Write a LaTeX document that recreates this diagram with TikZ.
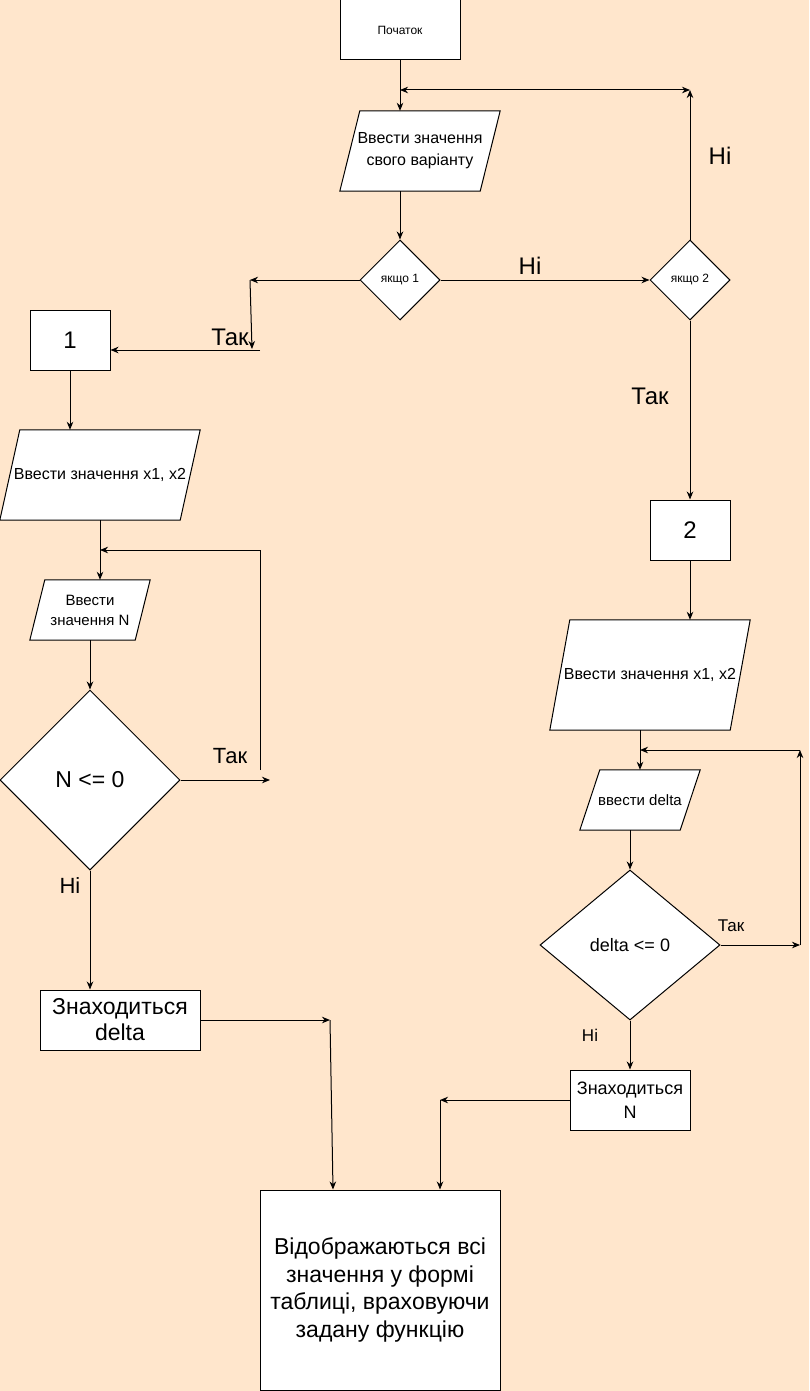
\documentclass[tikz,border=0pt]{standalone}
\usepackage{fontspec}
\setmainfont{Liberation Sans}
\usetikzlibrary{shapes.geometric,arrows.meta,calc}
\definecolor{bgpeach}{HTML}{FFE6CC}
\pgfdeclarelayer{back}
\pgfdeclarelayer{shapes}
\pgfsetlayers{back,shapes,main}
\newcommand\fsz[2]{\fontsize{#1}{#2}\selectfont}
% parallelogram (input/output) drawn behind a named text node
\newcommand\drawio[2]{%
  \begin{pgfonlayer}{shapes}
    \draw[fill=white,line width=1pt]
      ($(#1.north west)+(#2,0)$) -- (#1.north east) --
      ($(#1.south east)+(-#2,0)$) -- (#1.south west) -- cycle;
  \end{pgfonlayer}}
\begin{document}
\begin{tikzpicture}[x=1pt,y=-1pt,
  >={Stealth[length=8pt,width=6.5pt,inset=2.5pt]},
  arr/.style={->,line width=1pt},
  line/.style={line width=1pt},
  proc/.style={draw,fill=white,line width=1pt,inner sep=0pt,align=center},
  io/.style={inner sep=0pt,align=center},
  dec/.style={diamond,draw,fill=white,line width=1pt,inner sep=0pt,align=center},
  lbl/.style={inner sep=0pt}]

\begin{pgfonlayer}{back}
  \fill[bgpeach] (0,0) rectangle (809,1391);
\end{pgfonlayer}
\useasboundingbox (0,0) rectangle (809,1391);

% ---- top part ----
\node[proc,minimum width=120pt,minimum height=60pt,font=\fsz{12}{14}] (start) at (400,30) {Початок};
\node[io,minimum width=160pt,minimum height=80pt,font=\fsz{16}{22}] (in1) at (420,151) {Ввести значення\\свого варіанту};
\drawio{in1}{20}
\node[dec,minimum width=80pt,minimum height=80pt,font=\fsz{12}{14}] (d1) at (400,280) {якщо 1};
\node[dec,minimum width=80pt,minimum height=80pt,font=\fsz{12}{14}] (d2) at (690,280) {якщо 2};

% ---- left branch ----
\node[proc,minimum width=80pt,minimum height=60pt,font=\fsz{24}{28}] (b1) at (70,340) {1};
\node[io,minimum width=200pt,minimum height=90pt,font=\fsz{16}{20}] (in2) at (100,475) {Ввести значення x1, x2};
\drawio{in2}{20}
\node[io,minimum width=120pt,minimum height=60pt,font=\fsz{15}{20}] (in3) at (90,610) {Ввести\\значення N};
\drawio{in3}{15}
\node[dec,minimum width=180pt,minimum height=180pt,font=\fsz{23}{26}] (d3) at (90,780) {N <= 0};
\node[proc,minimum width=160pt,minimum height=60pt,font=\fsz{23}{26}] (bdelta) at (120,1020) {Знаходиться\\delta};

% ---- right branch ----
\node[proc,minimum width=80pt,minimum height=60pt,font=\fsz{24}{28}] (b2) at (690,530) {2};
\node[io,minimum width=200pt,minimum height=110pt,font=\fsz{16}{20}] (in4) at (650,675) {Ввести значення x1, x2};
\drawio{in4}{20}
\node[io,minimum width=120pt,minimum height=60pt,font=\fsz{15}{20}] (in5) at (640,800) {ввести delta};
\drawio{in5}{20}
\node[dec,minimum width=180pt,minimum height=150pt,font=\fsz{18}{22}] (d4) at (630,945) {delta <= 0};
\node[proc,minimum width=120pt,minimum height=60pt,font=\fsz{18}{24}] (bN) at (630,1100) {Знаходиться\\N};

% ---- result ----
\node[proc,minimum width=240pt,minimum height=200pt,font=\fsz{23}{27.5}] (final) at (380,1290)
  {Відображаються всі\\значення у формі\\таблиці, враховуючи\\задану функцію};

% ---- free connector ends ----
\coordinate (ctop) at (690,90);
\coordinate (cjoin) at (400,90);
\coordinate (cl1a) at (250,280);
\coordinate (cl1b) at (252,349);
\coordinate (cl1c) at (260,350);
\coordinate (cd3) at (270,780);
\coordinate (cloopA) at (260,770);
\coordinate (cloopB) at (260,550);
\coordinate (cr1) at (330,1020);
\coordinate (cr2) at (800,945);
\coordinate (cr3) at (800,750);
\coordinate (cl3) at (440,1100);

% ---- connectors ----
\draw[arr] (start.south) -- (start.south |- in1.north);
\draw[arr] (d2.north) -- (ctop);
\draw[line,<->] (cjoin) -- (ctop);
\draw[arr] (d1.north |- in1.south) -- (d1.north);
\draw[arr] (d1.east) -- (d2.west);
\draw[arr] (d1.west) -- (cl1a);
\draw[arr] (cl1a) -- (cl1b);
\draw[arr] (cl1c) -- (b1.east |- cl1c);
\draw[arr] (b1.south) -- (b1.south |- in2.north);
\draw[arr] (in2.south) -- (in2.south |- in3.north);
\draw[arr] (in3.south) -- (d3.north);
\draw[arr] (d3.east) -- (cd3);
\draw[arr] (cloopA) -- (cloopB) -- (in2.south |- cloopB);
\draw[arr] (d3.south) -- (d3.south |- bdelta.north);
\draw[arr] (bdelta.east) -- (cr1);
\draw[arr] (cr1) -- ([xshift=-47pt]final.north);

\draw[arr] (d2.south) -- (b2.north);
\draw[arr] (b2.south) -- (b2.south |- in4.north);
\draw[arr] (in5.north |- in4.south) -- (in5.north);
\draw[arr] (d4.north |- in5.south) -- (d4.north);
\draw[arr] (d4.east) -- (cr2);
\draw[arr] (cr2) -- (cr3);
\draw[arr] (cr3) -- (in5.north |- cr3);
\draw[arr] (d4.south) -- (bN.north);
\draw[arr] (bN.west) -- (cl3);
\draw[arr] (cl3) -- ([xshift=60pt]final.north);

% ---- branch labels ----
\node[lbl,font=\fsz{24}{28}] (n1) at (530,266) {Ні};
\node[lbl,font=\fsz{24}{28}] (n2) at (720,156) {Ні};
\node[lbl,font=\fsz{24}{28}] (t1) at (230,337) {Так};
\node[lbl,font=\fsz{24}{28}] (t2) at (650,396) {Так};
\node[lbl,font=\fsz{22}{26}] (t3) at (230,756) {Так};
\node[lbl,font=\fsz{22}{26}] (n3) at (70,886) {Ні};
\node[lbl,font=\fsz{17}{20}] (t4) at (731,926) {Так};
\node[lbl,font=\fsz{17}{20}] (n4) at (590,1035) {Ні};
\end{tikzpicture}
\end{document}
